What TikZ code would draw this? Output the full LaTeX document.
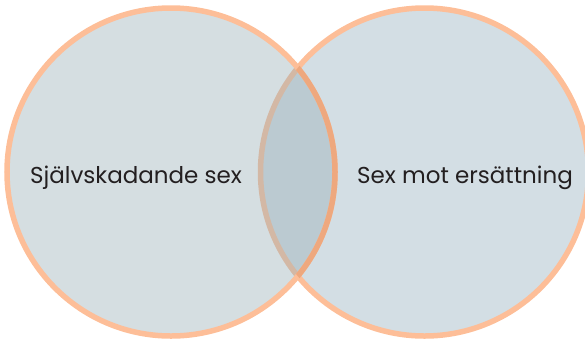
\documentclass[tikz,border=0pt]{standalone}
\usepackage{fontspec}
\setmainfont{Poppins}
\definecolor{fillblue}{RGB}{211,222,228}
\definecolor{fillmix}{RGB}{154,176,184}
\definecolor{ringpeach}{RGB}{253,190,152}
\definecolor{ringdeep}{RGB}{238,168,126}
\definecolor{textgray}{RGB}{35,31,32}
\tikzset{
  ring/.style={circle, minimum size=328pt, inner sep=0pt, outer sep=0pt, line width=5.5pt, draw=ringpeach},
  label/.style={inner sep=0pt, text=textgray, font=\fontsize{23}{27}\selectfont, anchor=base}
}
\begin{document}
\begin{tikzpicture}[x=1pt,y=-1pt]
\useasboundingbox (0,0) rectangle (585,341);
\clip (0,0) rectangle (585,341);
\node[ring, fill=fillblue] (right) at (424.5,172) {};
\node[ring, fill=fillmix, fill opacity=0.42] (left) at (171,172) {};
\begin{scope}
  \clip (right.center) circle[radius=164pt];
  \draw[line width=5.5pt, draw=ringdeep] (left.center) circle[radius=164pt];
\end{scope}
\node[label] (ltext) at (136,183) {Självskadande sex};
\node[label] (rtext) at (465,183) {Sex mot ersättning};
\end{tikzpicture}
\end{document}
